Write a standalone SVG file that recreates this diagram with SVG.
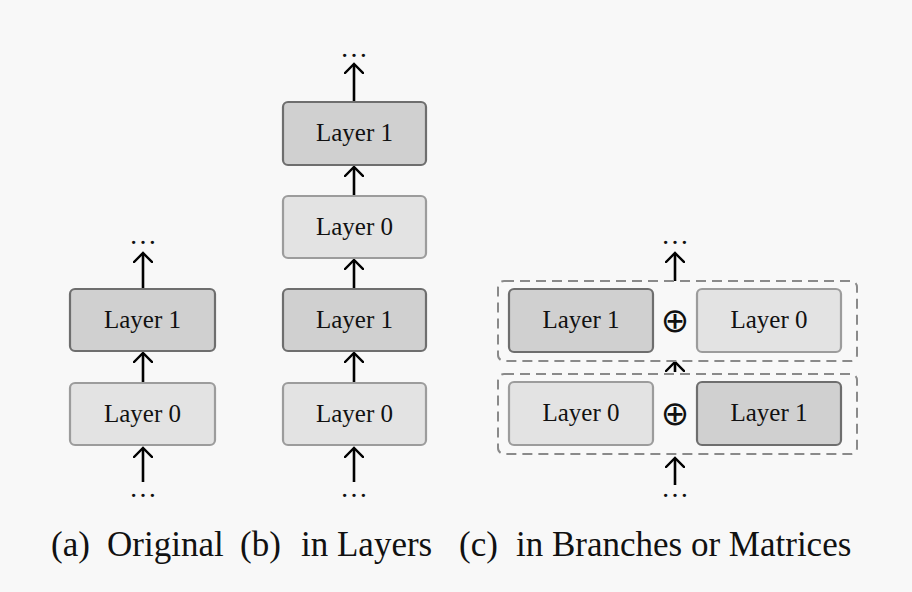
<svg xmlns="http://www.w3.org/2000/svg" width="912" height="592" viewBox="0 0 912 592">
<defs>
<marker id="ah" viewBox="-10 -10 20 20" markerWidth="20" markerHeight="20" refX="0" refY="0" markerUnits="userSpaceOnUse" orient="auto">
<path d="M -9 -9 L 0 0 L -9 9" fill="none" stroke="#000" stroke-width="2.4" stroke-linecap="square"/>
</marker>
<style>
.dark{fill:#d0d0d0;stroke:#6e6e6e;stroke-width:2.2}
.light{fill:#e3e3e3;stroke:#9c9c9c;stroke-width:2.2}
.lbl{font-family:"Liberation Serif","Times New Roman",serif;font-size:25px;fill:#111;text-anchor:middle}
.dots{font-family:"Liberation Serif","Times New Roman",serif;font-size:28px;fill:#111;text-anchor:middle}
.cap{font-family:"Liberation Serif","Times New Roman",serif;font-size:35px;fill:#111}
.arr{stroke:#000;stroke-width:2.6;fill:none;marker-end:url(#ah)}
.dash{fill:none;stroke:#8a8a8a;stroke-width:2;stroke-dasharray:10 6}
.oplus{font-family:"DejaVu Sans",sans-serif;font-size:34px;fill:#111;text-anchor:middle}
</style>
</defs>
<rect width="912" height="592" fill="#f8f8f8"/>

<g id="connectors">
<path class="arr" d="M143 482 L143 448"/>
<path class="arr" d="M143 383 L143 353"/>
<path class="arr" d="M143 289 L143 253"/>
<path class="arr" d="M354 482 L354 448"/>
<path class="arr" d="M354 383 L354 353"/>
<path class="arr" d="M354 289 L354 260"/>
<path class="arr" d="M354 196 L354 167"/>
<path class="arr" d="M354 102 L354 64"/>
<path class="arr" d="M675 485 L675 458"/>
<path class="arr" d="M675 372 L675 362"/>
<path class="arr" d="M675 281 L675 253"/>
</g>

<g id="dots">
<text class="dots" x="143" y="244">…</text>
<text class="dots" x="143" y="497">…</text>
<text class="dots" x="354" y="57">…</text>
<text class="dots" x="354" y="497">…</text>
<text class="dots" x="675" y="244">…</text>
<text class="dots" x="675" y="497">…</text>
</g>

<g id="a-layer1"><rect class="dark" x="70" y="289" width="145" height="62" rx="5"/><text class="lbl" x="142.5" y="328">Layer 1</text></g>
<g id="a-layer0"><rect class="light" x="70" y="383" width="145" height="62" rx="5"/><text class="lbl" x="142.5" y="422">Layer 0</text></g>

<g id="b-layer1-top"><rect class="dark" x="283" y="102" width="143" height="63" rx="5"/><text class="lbl" x="354.5" y="141">Layer 1</text></g>
<g id="b-layer0-top"><rect class="light" x="283" y="196" width="143" height="62" rx="5"/><text class="lbl" x="354.5" y="235">Layer 0</text></g>
<g id="b-layer1"><rect class="dark" x="283" y="289" width="143" height="62" rx="5"/><text class="lbl" x="354.5" y="328">Layer 1</text></g>
<g id="b-layer0"><rect class="light" x="283" y="383" width="143" height="62" rx="5"/><text class="lbl" x="354.5" y="422">Layer 0</text></g>

<g id="c-group-top"><rect class="dash" x="498" y="281" width="359" height="80" rx="6"/></g>
<g id="c-group-bottom"><rect class="dash" x="498" y="374" width="359" height="80" rx="6"/></g>
<g id="c-top-layer1"><rect class="dark" x="509" y="289" width="144" height="63" rx="5"/><text class="lbl" x="581" y="328">Layer 1</text></g>
<g id="c-top-plus"><text class="oplus" x="675" y="332">⊕</text></g>
<g id="c-top-layer0"><rect class="light" x="697" y="289" width="144" height="63" rx="5"/><text class="lbl" x="769" y="328">Layer 0</text></g>
<g id="c-bot-layer0"><rect class="light" x="509" y="382" width="144" height="63" rx="5"/><text class="lbl" x="581" y="421">Layer 0</text></g>
<g id="c-bot-plus"><text class="oplus" x="675" y="425">⊕</text></g>
<g id="c-bot-layer1"><rect class="dark" x="697" y="382" width="144" height="63" rx="5"/><text class="lbl" x="769" y="421">Layer 1</text></g>

<g id="captions">
<text class="cap" x="51" y="556">(a)</text>
<text class="cap" x="107" y="556">Original</text>
<text class="cap" x="240" y="556">(b)</text>
<text class="cap" x="301" y="556">in Layers</text>
<text class="cap" x="459" y="556">(c)</text>
<text class="cap" x="516" y="556">in Branches or Matrices</text>
</g>
</svg>
